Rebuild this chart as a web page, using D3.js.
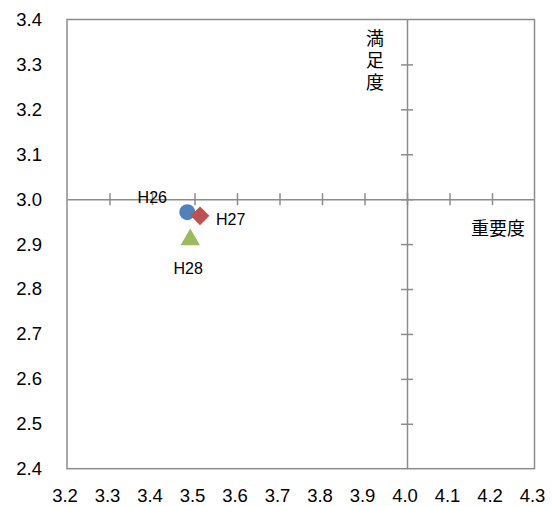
<!DOCTYPE html>
<html><head><meta charset="utf-8">
<script src="https://cdn.jsdelivr.net/npm/d3@7"></script>
<style>
html,body{margin:0;padding:0;background:#fff;}
svg{display:block;}
text{font-family:"Liberation Sans",Arial,sans-serif;fill:#000;}
</style></head>
<body>
<script>
const seriesNames = ["H26", "H27", "H28"];
const importance = [3.483, 3.513, 3.490];
const satisfaction = [2.971, 2.963, 2.916];
const colors = ["#4F81BD", "#C0504D", "#9BBB59"];
const symbols = ["circle", "diamond", "triangle"];
const xTicks = [3.2, 3.3, 3.4, 3.5, 3.6, 3.7, 3.8, 3.9, 4.0, 4.1, 4.2, 4.3];
const yTicks = [2.4, 2.5, 2.6, 2.7, 2.8, 2.9, 3.0, 3.1, 3.2, 3.3, 3.4];
const xTitle = "重要度";
const yTitle = "満足度";
const xCross = 4.0, yCross = 3.0;

const W = 552, H = 506;
const svg = d3.select("body").append("svg").attr("width", W).attr("height", H);
const x = d3.scaleLinear().domain([3.2, 4.3]).range([67, 534.5]);
const y = d3.scaleLinear().domain([2.4, 3.4]).range([468.7, 19.5]);
const axisColor = "#8c8c8c";

// plot border
svg.append("rect").attr("x", x(3.2)).attr("y", y(3.4))
  .attr("width", x(4.3) - x(3.2)).attr("height", y(2.4) - y(3.4))
  .attr("fill", "none").attr("stroke", axisColor).attr("stroke-width", 1.5);

// crossing axes
const gx = svg.append("g").attr("transform", `translate(0,${y(yCross)})`)
  .call(d3.axisBottom(x).tickValues(xTicks.filter(v => v > 3.21 && v < 4.29)).tickSize(0).tickFormat(""));
gx.select(".domain").attr("stroke", axisColor).attr("stroke-width", 1.5);
gx.selectAll(".tick line").attr("y1", -6).attr("y2", 6).attr("stroke", axisColor).attr("stroke-width", 1.5);

const gy = svg.append("g").attr("transform", `translate(${x(xCross)},0)`)
  .call(d3.axisLeft(y).tickValues(yTicks.filter(v => v > 2.41 && v < 3.39)).tickSize(0).tickFormat(""));
gy.select(".domain").attr("stroke", axisColor).attr("stroke-width", 1.5);
gy.selectAll(".tick line").attr("x1", -6).attr("x2", 6).attr("stroke", axisColor).attr("stroke-width", 1.5);

// tick labels: left
const gl = svg.append("g").attr("transform", `translate(${x(3.2)},0)`)
  .call(d3.axisLeft(y).tickValues(yTicks).tickSize(0).tickPadding(25).tickFormat(d3.format(".1f")));
gl.select(".domain").remove();
gl.selectAll("text").style("font-size", "18.5px").style("font-family", '"Liberation Sans",Arial,sans-serif').attr("fill", "#000");

// tick labels: bottom
const gb = svg.append("g").attr("transform", `translate(-2.5,${y(2.4)})`)
  .call(d3.axisBottom(x).tickValues(xTicks).tickSize(0).tickPadding(20).tickFormat(d3.format(".1f")));
gb.select(".domain").remove();
gb.selectAll("text").style("font-size", "18.5px").style("font-family", '"Liberation Sans",Arial,sans-serif').attr("fill", "#000");

// axis titles
svg.append("text").attr("x", 498).attr("y", 235).attr("text-anchor", "middle")
  .style("font-size", "18px").style("font-family", '"Noto Sans CJK JP",sans-serif').text(xTitle);
svg.append("text").attr("x", 375).attr("y", 29)
  .style("writing-mode", "vertical-rl").style("letter-spacing", "4px")
  .style("font-size", "18px").style("font-family", '"Noto Sans CJK JP",sans-serif').text(yTitle);

// markers
const symMap = {circle: d3.symbolCircle, diamond: d3.symbolSquare, triangle: d3.symbolTriangle};
const sizes = {circle: 201, diamond: 175, triangle: 165};
const pts = seriesNames.map((n, i) => ({n, x: importance[i], y: satisfaction[i], c: colors[i], s: symbols[i]}));
svg.selectAll("path.pt").data(pts).join("path").attr("class", "pt")
  .attr("transform", d => `translate(${x(d.x)},${y(d.y) + (d.s === "triangle" ? 2.8 : 0)})` + (d.s === "diamond" ? " rotate(45)" : ""))
  .attr("d", d => d3.symbol().type(symMap[d.s]).size(sizes[d.s])())
  .attr("fill", d => d.c);

// data labels
const labelOffsets = {H26: [-35, -9, "middle"], H27: [16, 9.5, "start"], H28: [-2, 37, "middle"]};
svg.selectAll("text.lbl").data(pts).join("text").attr("class", "lbl")
  .attr("x", d => x(d.x) + labelOffsets[d.n][0])
  .attr("y", d => y(d.y) + labelOffsets[d.n][1])
  .attr("text-anchor", d => labelOffsets[d.n][2])
  .style("font-size", "16px").text(d => d.n);
</script>
</body></html>
